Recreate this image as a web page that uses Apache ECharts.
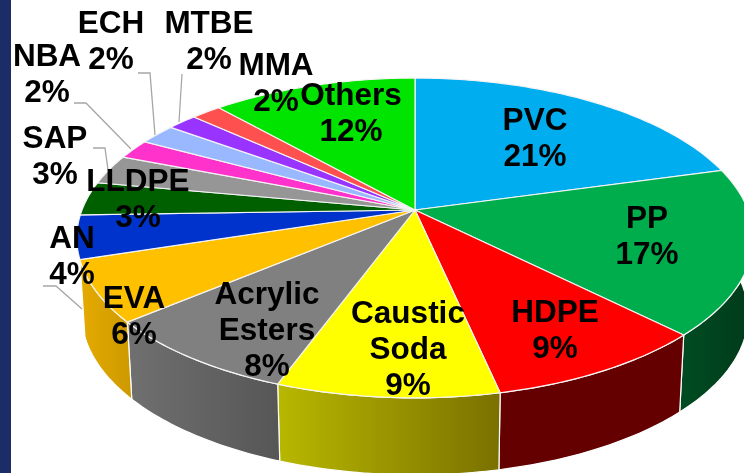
<!DOCTYPE html>
<html>
<head>
<meta charset="utf-8">
<style>html,body{margin:0;padding:0;background:#fff}#chart{width:744px;height:473px}</style>
<script src="https://cdn.jsdelivr.net/npm/echarts@6/dist/echarts.min.js"></script>
</head>
<body>
<div id="chart"></div>
<script>
// data
const categories = ['PVC', 'PP', 'HDPE', 'Caustic\nSoda', 'Acrylic\nEsters', 'EVA', 'AN', 'LLDPE', 'SAP', 'NBA', 'ECH', 'MTBE', 'MMA', 'Others'];
const shareValues = [20.7, 16.8, 9.1, 9.0, 8.3, 6.2, 4.4, 3.4, 3.0, 2.0, 2.1, 1.7, 1.7, 11.6];

// colours
const topColors = ['#00AEEF', '#00AD4D', '#FF0000', '#FFFF00', '#808080', '#FFC000', '#0033CC', '#006000', '#969696', '#FF33CC', '#99B8FF', '#9933FF', '#FF5050', '#00E400'];
const wallColors = [null, ['#004C22', '#003A1A'], ['#640000', '#640000'], ['#B8B800', '#7A7000'], ['#707070', '#565656'], ['#E6AB00', '#CC9900'], null, null, null, null, null, null, null, null];

// layout: label centres and leader lines
const labelCentres = [[535, 139], [647, 237], [555, 331], [408, 350], [267, 331], [134, 317], [72, 257], [138, 200], [55, 157], [47, 75], [111, 42], [209, 42], [276, 84], [351, 114]];
const leaderLines = [
    [[43, 286], [56, 286], [82, 309]],
    [[93, 148], [105, 148], [108, 170]],
    [[74, 103], [86, 103], [131, 149]],
    [[138, 73], [150, 73], [155, 135]],
    [[182, 74], [179, 122]]
];

// tilted pie: circle in perspective, apex is the pie centre
const pie = { cx: 415, cy: 210, rx: 333, ry: 155, k: 0.175, depth: 77, shrink: 0.985 };

const total = shareValues.reduce((a, b) => a + b, 0);
const rimPoint = (deg) => {
    const a = deg * Math.PI / 180;
    const u = Math.sin(a), v = Math.cos(a);
    const w = 1 + pie.k * v;
    return [pie.cx + pie.rx * u / w, pie.cy - pie.ry * v / w];
};
const lowerPoint = (p) => [pie.cx + (p[0] - pie.cx) * pie.shrink, p[1] + pie.depth];

function arcPoints(index) {
    let before = 0;
    for (let i = 0; i < index; i++) before += shareValues[i];
    const start = before / total * 360;
    const sweep = shareValues[index] / total * 360;
    const pts = [];
    const steps = Math.max(4, Math.ceil(sweep));
    for (let s = 0; s <= steps; s++) pts.push(rimPoint(start + sweep * s / steps));
    return pts;
}

function renderWall(params) {
    const colors = wallColors[params.dataIndex];
    if (!colors) return null;
    const arc = arcPoints(params.dataIndex);
    return {
        type: 'polygon',
        shape: { points: arc.concat(arc.map(lowerPoint).reverse()) },
        style: {
            fill: new echarts.graphic.LinearGradient(0, 0, 1, 0, [
                { offset: 0, color: colors[0] },
                { offset: 1, color: colors[1] }
            ]),
            stroke: '#fff',
            lineWidth: 1.2
        }
    };
}

function renderTop(params) {
    return {
        type: 'polygon',
        shape: { points: [[pie.cx, pie.cy]].concat(arcPoints(params.dataIndex)) },
        style: { fill: topColors[params.dataIndex], stroke: '#f4f4f4', lineWidth: 1.2 }
    };
}

function renderLabel(params, api) {
    const c = labelCentres[params.dataIndex];
    return {
        type: 'text',
        style: {
            text: categories[params.dataIndex] + '\n' + Math.round(api.value(0)) + '%',
            x: c[0],
            y: c[1],
            align: 'center',
            verticalAlign: 'middle',
            font: 'bold 31.5px "Liberation Sans", Arial, sans-serif',
            lineHeight: 36,
            fill: '#000'
        }
    };
}

function renderLeader(params) {
    return {
        type: 'polyline',
        shape: { points: leaderLines[params.dataIndex] },
        style: { fill: 'none', stroke: '#a6a6a6', lineWidth: 1.3 }
    };
}

const customSeries = (renderItem, data, z) => ({
    type: 'custom',
    coordinateSystem: 'none',
    renderItem: renderItem,
    data: data,
    z: z,
    silent: true,
    animation: false
});

const chart = echarts.init(document.getElementById('chart'), null, { renderer: 'canvas' });
chart.setOption({
    backgroundColor: '#fff',
    animation: false,
    graphic: [{
        type: 'rect',
        shape: { x: 0, y: 0, width: 11, height: 473 },
        style: { fill: '#1B2C66' },
        z: 100
    }],
    series: [
        customSeries(renderWall, shareValues, 1),
        customSeries(renderLeader, leaderLines.map((l, i) => i), 2),
        customSeries(renderTop, shareValues, 3),
        customSeries(renderLabel, shareValues, 4)
    ]
});
</script>
</body>
</html>
